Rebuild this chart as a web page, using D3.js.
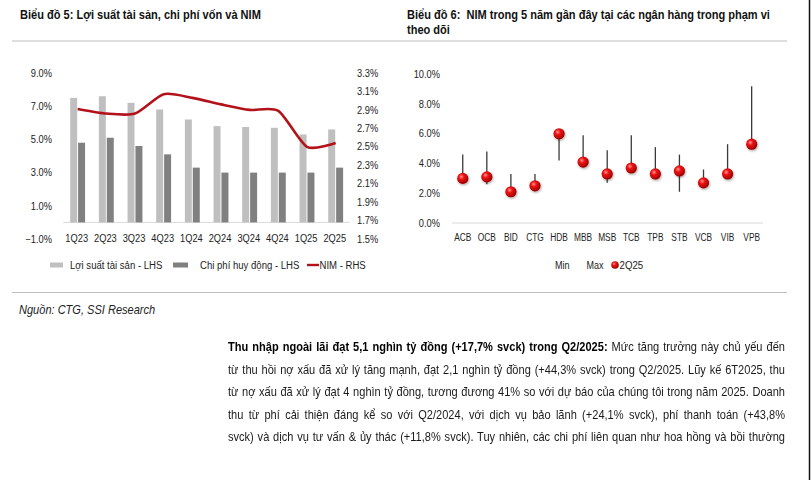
<!DOCTYPE html>
<html>
<head>
<meta charset="utf-8">
<script src="https://cdn.jsdelivr.net/npm/d3@7"></script>
<style>
body { margin: 0; background: #fff; }
#page { position: relative; width: 811px; height: 480px; overflow: hidden; background: #fff;
        font-family: "Liberation Sans", Arial, sans-serif; }
#page svg { position: absolute; left: 0; top: 0; }
#para { position: absolute; left: 228px; top: 336px; font-size: 13px; line-height: 22.5px; color: #1a1a1a; }
#para div { white-space: nowrap; text-align: justify; text-align-last: justify; transform-origin: 0 0; }
#para b { font-weight: bold; color: #000; }
.measure { display: inline-block; white-space: nowrap; visibility: hidden; position: absolute; font-size: 13px; }
</style>
</head>
<body>
<div id="page">
  <svg id="chart" width="811" height="480"></svg>
  <div id="para"></div>
</div>
<script>
// chart 5 data
const quarters = ["1Q23", "2Q23", "3Q23", "4Q23", "1Q24", "2Q24", "3Q24", "4Q24", "1Q25", "2Q25"];
const assetYield = [7.5, 7.6, 7.2, 6.8, 6.2, 5.8, 5.75, 5.7, 5.3, 5.6];
const fundingCost = [4.8, 5.1, 4.6, 4.1, 3.3, 3.0, 3.0, 3.0, 3.0, 3.3];
const nimLine = [2.91, 2.86, 2.86, 3.07, 3.03, 2.96, 2.90, 2.89, 2.50, 2.54];
const leftTicks = [-1, 1, 3, 5, 7, 9];
const rightTicks = [1.5, 1.7, 1.9, 2.1, 2.3, 2.5, 2.7, 2.9, 3.1, 3.3];

// chart 6 data
const banks = ["ACB", "OCB", "BID", "CTG", "HDB", "MBB", "MSB", "TCB", "TPB", "STB", "VCB", "VIB", "VPB"];
const nimMin = [2.9, 2.6, 2.0, 2.4, 4.2, 4.0, 2.7, 3.6, 3.2, 2.1, 2.6, 3.2, 5.2];
const nimMax = [4.6, 4.8, 3.3, 3.3, 6.0, 5.9, 4.9, 5.9, 5.1, 4.6, 3.6, 5.3, 9.2];
const nim2Q25 = [3.0, 3.1, 2.1, 2.5, 6.0, 4.1, 3.3, 3.7, 3.3, 3.5, 2.7, 3.3, 5.3];
const bankTicks = [0, 2, 4, 6, 8, 10];

const paraLines = [
    ["Thu nhập ngoài lãi đạt 5,1 nghìn tỷ đồng (+17,7% svck) trong Q2/2025:", " Mức tăng trưởng này chủ yếu đến"],
    ["", "từ thu hồi nợ xấu đã xử lý tăng mạnh, đạt 2,1 nghìn tỷ đồng (+44,3% svck) trong Q2/2025. Lũy kế 6T2025, thu"],
    ["", "từ nợ xấu đã xử lý đạt 4 nghìn tỷ đồng, tương đương 41% so với dự báo của chúng tôi trong năm 2025. Doanh"],
    ["", "thu từ phí cải thiện đáng kể so với Q2/2024, với dịch vụ bảo lãnh (+24,1% svck), phí thanh toán (+43,8%"],
    ["", "svck) và dịch vụ tư vấn & ủy thác (+11,8% svck). Tuy nhiên, các chi phí liên quan như hoa hồng và bồi thường"]
];

const svg = d3.select("#chart");
const FONT = `"Liberation Sans", Arial, sans-serif`;

// no narrow font installed, so squeeze text horizontally
const label = (parent, x, y, txt, opts = {}) => parent.append("text")
    .attr("transform", `translate(${x},${y}) scale(${opts.k || 0.85},1)`)
    .attr("font-family", FONT)
    .attr("font-size", opts.size || 11)
    .attr("font-weight", opts.weight || "normal")
    .attr("font-style", opts.style || "normal")
    .attr("fill", opts.fill || "#222")
    .style("white-space", "pre")
    .text(txt);

// titles and rules
label(svg, 20, 19, "Biểu đồ 5: Lợi suất tài sản, chi phí vốn và NIM", {size: 13, weight: "bold", fill: "#111", k: 0.85});
label(svg, 407, 19, "Biểu đồ 6:  NIM trong 5 năm gần đây tại các ngân hàng trong phạm vi", {size: 13, weight: "bold", fill: "#111", k: 0.85});
label(svg, 407, 34, "theo dõi", {size: 13, weight: "bold", fill: "#111", k: 0.85});

svg.append("line").attr("x1", 12).attr("x2", 787).attr("y1", 41).attr("y2", 41)
    .attr("stroke", "#bdbdbd").attr("stroke-width", 1);
svg.append("line").attr("x1", 12).attr("x2", 787).attr("y1", 292.5).attr("y2", 292.5)
    .attr("stroke", "#bdbdbd").attr("stroke-width", 1);
svg.append("line").attr("x1", 809.5).attr("x2", 809.5).attr("y1", 0).attr("y2", 480)
    .attr("stroke", "#111").attr("stroke-width", 1.5);

label(svg, 19, 314, "Nguồn: CTG, SSI Research", {size: 13, style: "italic", k: 0.85});

// ---------- chart 5 ----------
const x0 = d3.scaleBand().domain(quarters).range([63.3, 350]);
const x1 = d3.scaleBand().domain(["ay", "fc"])
    .range([x0.bandwidth() * 0.24, x0.bandwidth() * 0.76]).paddingInner(0.12);
const yL = d3.scaleLinear().domain([-1, 9]).range([239, 73]);
const yR = d3.scaleLinear().domain([1.5, 3.3]).range([239, 73]);

const g5 = svg.append("g");

g5.append("line").attr("x1", 63.3).attr("x2", 350).attr("y1", yL(0)).attr("y2", yL(0))
    .attr("stroke", "#d9d9d9").attr("stroke-width", 1);

const groups = g5.selectAll(".qgrp").data(quarters).enter().append("g")
    .attr("transform", d => `translate(${x0(d)},0)`);
groups.append("rect")
    .attr("x", x1("ay")).attr("width", x1.bandwidth())
    .attr("y", (d, i) => yL(assetYield[i])).attr("height", (d, i) => yL(0) - yL(assetYield[i]))
    .attr("fill", "#bfbfbf");
groups.append("rect")
    .attr("x", x1("fc")).attr("width", x1.bandwidth())
    .attr("y", (d, i) => yL(fundingCost[i])).attr("height", (d, i) => yL(0) - yL(fundingCost[i]))
    .attr("fill", "#808080");

const nimPath = d3.line()
    .x((d, i) => x0(quarters[i]) + x0.bandwidth() / 2)
    .y(d => yR(d))
    .curve(d3.curveCardinal.tension(0.3));
g5.append("path").datum(nimLine)
    .attr("fill", "none").attr("stroke", "#b3121b").attr("stroke-width", 2.6)
    .attr("d", nimPath);

const pct = d => d3.format(".1f")(d) + "%";

g5.append("g").attr("transform", "translate(52,0)")
    .call(d3.axisLeft(yL).tickValues(leftTicks).tickSize(0).tickPadding(0).tickFormat(pct))
    .call(g => g.select(".domain").remove())
    .selectAll("text").attr("font-family", FONT).attr("font-size", 10).attr("fill", "#222")
    .attr("transform", "scale(0.93,1)");

g5.append("g").attr("transform", "translate(357,0)")
    .call(d3.axisRight(yR).tickValues(rightTicks).tickSize(0).tickPadding(0).tickFormat(pct))
    .call(g => g.select(".domain").remove())
    .selectAll("text").attr("font-family", FONT).attr("font-size", 10).attr("fill", "#222")
    .attr("transform", "scale(0.93,1)");

g5.append("g").attr("transform", `translate(0,${yL(-1)})`)
    .call(d3.axisBottom(x0).tickSize(0).tickPadding(0))
    .call(g => g.select(".domain").remove())
    .selectAll("text").attr("dy", "0.32em").attr("x", -1)
    .attr("font-family", FONT).attr("font-size", 10).attr("fill", "#222")
    .attr("transform", "scale(0.93,1)");

// legend chart 5
const leg5 = svg.append("g");
leg5.append("rect").attr("x", 50).attr("y", 262.5).attr("width", 13).attr("height", 5).attr("fill", "#bfbfbf");
label(leg5, 70, 269, "Lợi suất tài sản - LHS", {k: 0.87});
leg5.append("rect").attr("x", 173).attr("y", 262.5).attr("width", 15).attr("height", 5).attr("fill", "#808080");
label(leg5, 200, 269, "Chi phí huy động - LHS", {k: 0.87});
leg5.append("line").attr("x1", 307).attr("x2", 319).attr("y1", 265).attr("y2", 265)
    .attr("stroke", "#b3121b").attr("stroke-width", 2.4);
label(leg5, 319.5, 269, "NIM - RHS", {k: 0.87});

// ---------- chart 6 ----------
const defs = svg.append("defs");
const rg = defs.append("radialGradient").attr("id", "ball").attr("cx", "38%").attr("cy", "35%").attr("r", "65%");
rg.append("stop").attr("offset", "0%").attr("stop-color", "#ff9a9a");
rg.append("stop").attr("offset", "35%").attr("stop-color", "#f01414");
rg.append("stop").attr("offset", "100%").attr("stop-color", "#9c0000");
const sh = defs.append("filter").attr("id", "shadow").attr("x", "-50%").attr("y", "-50%").attr("width", "200%").attr("height", "200%");
sh.append("feDropShadow").attr("dx", 0.8).attr("dy", 1.2).attr("stdDeviation", 0.9).attr("flood-color", "#000").attr("flood-opacity", 0.35);

const xb = d3.scaleBand().domain(banks).range([450.7, 763.7]);
const yb = d3.scaleLinear().domain([0, 10]).range([223, 74.3]);
const g6 = svg.append("g");

g6.append("line").attr("x1", 452).attr("x2", 763).attr("y1", yb(0)).attr("y2", yb(0))
    .attr("stroke", "#d9d9d9").attr("stroke-width", 1);

g6.append("g").attr("transform", "translate(440,0)")
    .call(d3.axisLeft(yb).tickValues(bankTicks).tickSize(0).tickPadding(0).tickFormat(pct))
    .call(g => g.select(".domain").remove())
    .selectAll("text").attr("font-family", FONT).attr("font-size", 10).attr("fill", "#222")
    .attr("transform", "scale(0.93,1)");

g6.append("g").attr("transform", `translate(0,${yb(0) + 14.5})`)
    .call(d3.axisBottom(xb).tickSize(0).tickPadding(0))
    .call(g => g.select(".domain").remove())
    .selectAll("text").attr("dy", "0.32em")
    .attr("font-family", FONT).attr("font-size", 11).attr("fill", "#222")
    .attr("transform", "scale(0.76,1)");

const cx = d => xb(d) + xb.bandwidth() / 2;
g6.selectAll(".whisk").data(banks).enter().append("line")
    .attr("x1", cx).attr("x2", cx)
    .attr("y1", (d, i) => yb(nimMin[i])).attr("y2", (d, i) => yb(nimMax[i]))
    .attr("stroke", "#3a3a3a").attr("stroke-width", 1.3);
g6.selectAll(".ball").data(banks).enter().append("circle")
    .attr("cx", cx).attr("cy", (d, i) => yb(nim2Q25[i])).attr("r", 5.6)
    .attr("fill", "url(#ball)").attr("filter", "url(#shadow)");

// legend chart 6
const leg6 = svg.append("g");
label(leg6, 555, 269, "Min", {k: 0.82});
label(leg6, 586.5, 269, "Max", {k: 0.82});
leg6.append("circle").attr("cx", 615).attr("cy", 265).attr("r", 3.8).attr("fill", "url(#ball)");
label(leg6, 619.5, 269, "2Q25", {k: 0.88});

// paragraph: one justified row per reference line, squeezed like a narrow face
const para = d3.select("#para");
const targetW = 557;
paraLines.forEach(l => {
    const probe = d3.select("#page").append("span").attr("class", "measure");
    if (l[0]) probe.append("b").text(l[0]);
    probe.append("span").text(l[1]);
    const w = probe.node().getBoundingClientRect().width;
    probe.remove();
    const k = Math.min(0.85, targetW / w);
    const row = para.append("div")
        .style("width", (targetW / k) + "px")
        .style("transform", `scaleX(${k})`);
    if (l[0]) row.append("b").text(l[0]);
    row.append("span").text(l[1]);
});
</script>
</body>
</html>
